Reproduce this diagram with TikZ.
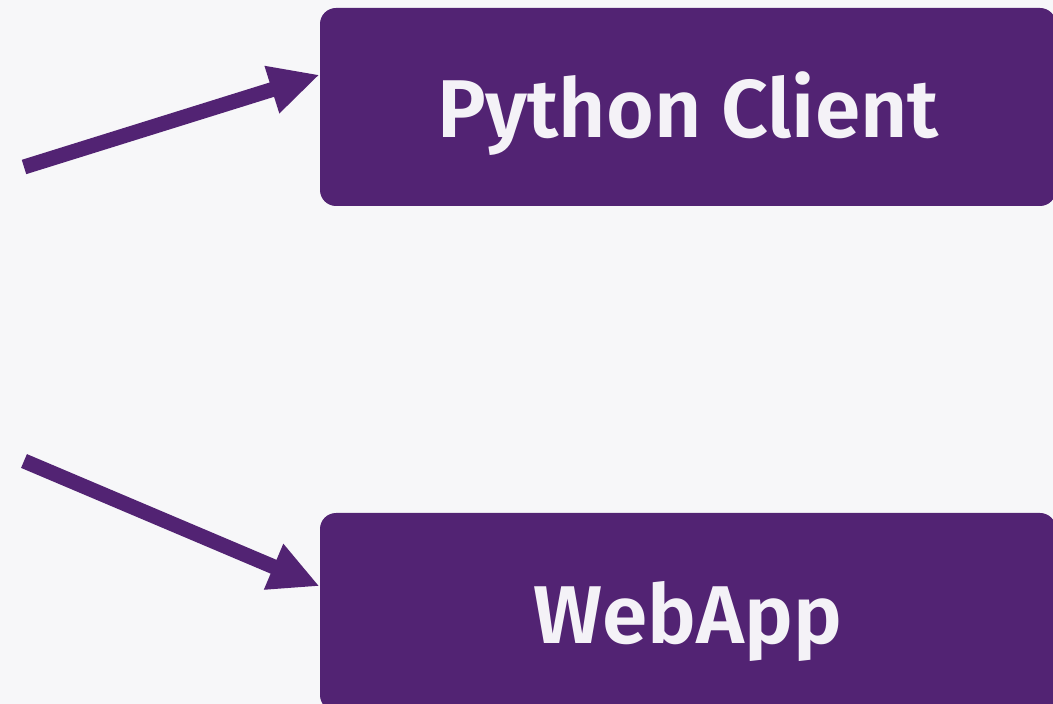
\documentclass[tikz,border=0pt]{standalone}
\usepackage{fontspec}
\setsansfont{Fira Sans}[BoldFont={Fira Sans SemiBold}]
\usetikzlibrary{arrows.meta}
\definecolor{plum}{HTML}{522373}
\definecolor{paper}{HTML}{F7F7F9}
\definecolor{label}{HTML}{F4F2F7}
\tikzset{
  sysbox/.style={fill=plum, rounded corners=8pt, minimum width=368pt, minimum height=99pt,
    text height=39pt, text depth=8pt,
    text=label, font=\sffamily\bfseries\fontsize{41}{48}\selectfont},
  flow/.style={draw=plum, line width=7.5pt, -{Triangle[length=25pt, width=23pt]}}
}
\begin{document}
\begin{tikzpicture}[x=0.5pt, y=-0.5pt]
  \fill[paper] (0,0) rectangle (1053,704);
  \useasboundingbox (0,0) rectangle (1053,704);
  \clip (0,0) rectangle (1053,704);
  \node[sysbox] (py) at (688,107) {Python Client};
  \node[sysbox] (web) at (688,612) {WebApp};
  \coordinate (src1) at (24,167);
  \coordinate (src2) at (24,461);
  \draw[flow] (src1) -- (py.175.6);
  \draw[flow] (src2) -- (web.176.4);
\end{tikzpicture}
\end{document}
